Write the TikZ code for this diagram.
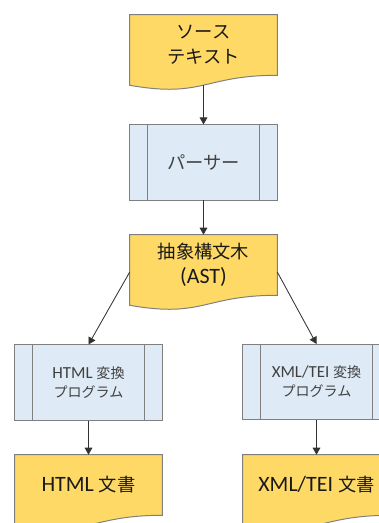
\documentclass[tikz,border=0pt]{standalone}
\usepackage{fontspec}
\setmainfont{Carlito}[Scale=1.2]
\newfontfamily\jp{Noto Sans CJK JP}
\usetikzlibrary{arrows.meta,calc,backgrounds}

\definecolor{docfill}{HTML}{FFD966}
\definecolor{procfill}{HTML}{DEEBF7}
\definecolor{edgegray}{HTML}{7F7F7F}
\definecolor{textgray}{HTML}{404040}

\tikzset{
  docbox/.style={minimum width=3.675cm, minimum height=1.5cm, inner sep=0pt,
    align=center, text=black!90, font=\fontsize{13}{17.5}\selectfont},
  procbox/.style={draw=edgegray, fill=procfill, line width=0.7pt,
    minimum width=3.675cm, minimum height=1.875cm, inner sep=0pt,
    align=center, text=textgray},
  flow/.style={-{Triangle[width=5.5pt,length=5pt]}, black!80, line width=0.6pt},
}

% wavy document outline behind a docbox node, plus a point on its wave
\newcommand{\docshape}[1]{%
  \begin{scope}[on background layer]
    \draw[edgegray, fill=docfill, line width=0.7pt]
      (#1.north west) -- (#1.north east) -- (#1.south east)
      .. controls (#1.south) and ($(#1.south)+(0,23)$) ..
      ($(#1.south west)+(0,10)$) -- cycle;
  \end{scope}
  \coordinate (#1-w) at ($(#1.south)+(0,10)$);}
% the two inner bars of a predefined process
\newcommand{\procbars}[1]{%
  \draw[edgegray, line width=0.7pt] ($(#1.north west)+(18.4,0)$) -- ($(#1.south west)+(18.4,0)$);
  \draw[edgegray, line width=0.7pt] ($(#1.north east)-(18.4,0)$) -- ($(#1.south east)-(18.4,0)$);}

\begin{document}
\begin{tikzpicture}[x=0.025cm, y=-0.025cm]
  \useasboundingbox (0,0) rectangle (379,523);
  \clip (0,0) rectangle (379,523);

  % main line
  \node[docbox] (src) at (203.5,45) {\jp ソース\\\jp テキスト};
  \node[procbox, font=\fontsize{13}{17.5}\selectfont] (parser) at (203.5,162.5) {\jp パーサー};
  \node[docbox] (ast) at (203.5,265) {\jp 抽象構文木\\(AST)};

  % the two branches
  \node[procbox, font=\fontsize{10}{13.5}\selectfont] (html) at (88.5,382.5) {HTML {\jp 変換}\\\jp プログラム};
  \node[procbox, font=\fontsize{10}{13.5}\selectfont] (xml) at (316.5,382) {XML/TEI {\jp 変換}\\\jp プログラム};
  \node[docbox] (htmldoc) at (88.5,485) {HTML {\jp 文書}};
  \node[docbox] (xmldoc) at (316.5,485) {XML/TEI {\jp 文書}};

  \docshape{src}
  \docshape{ast}
  \docshape{htmldoc}
  \docshape{xmldoc}
  \procbars{parser}
  \procbars{html}
  \procbars{xml}

  \draw[flow] (src-w) -- (parser);
  \draw[flow] (parser) -- (ast);
  \draw[flow] ([yshift=-5pt]ast.west) -- (html.north);
  \draw[flow] ([yshift=-5pt]ast.east) -- (xml.north);
  \draw[flow] (html) -- (htmldoc);
  \draw[flow] (xml) -- (xmldoc);
\end{tikzpicture}
\end{document}
